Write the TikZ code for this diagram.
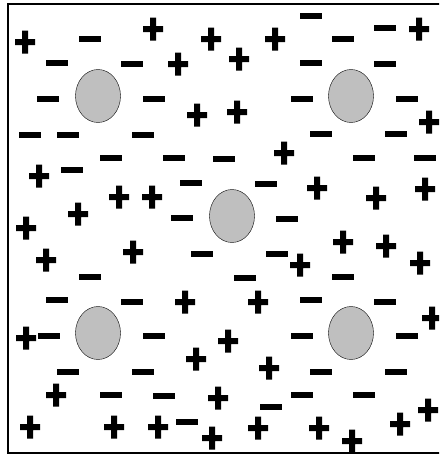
\documentclass[tikz,border=0pt]{standalone}
\tikzset{cell/.style={draw,thin,fill=black!25}}
\begin{document}
\begin{tikzpicture}[x=1pt,y=-1pt]
                    \useasboundingbox (0,0) rectangle (439,455);
                    \clip (0,0) rectangle (439,455);
                    \draw [line width=1.2pt] (8,4) rectangle (445,453);
                    \foreach \x/\y in {98/96,351/96,232/216,98/333,351/333}
                    \draw [cell] (\x,\y) ellipse [x radius=22.5,y radius=26.5];
                    % positive charges
                    \foreach \x/\y in {25/42,153/29,211/39,178/64,197/115,239/59,275/39,419/29,237/112,429/122,
                                       284/153,39/176,119/197,152/197,78/214,26/228,46/260,133/252,317/188,376/198,
                                       425/189,343/242,386/246,420/263,300/265,185/302,258/302,26/338,196/359,228/341,
                                       432/318,269/368,56/395,218/398,428/410,30/427,114/427,158/427,212/438,258/428,
                                       319/428,400/424,352/441}
                    \fill [shift={(\x,\y)}] (-10,-3) rectangle (10,3) (-3,-11.5) rectangle (3,11.5);
                    % negative charges
                    \foreach \x/\y in {90/39,57/63,132/64,48/99,154/99,30/135,68/135,143/135,311/16,343/39,
                                       385/28,311/63,385/64,302/99,407/99,321/134,396/134,111/158,174/158,224/159,
                                       72/170,191/183,182/218,202/254,90/277,364/158,425/158,266/184,287/219,277/254,
                                       245/278,343/277,57/300,132/302,311/300,385/302,49/336,154/336,302/336,407/336,
                                       68/372,143/372,321/372,396/372,111/395,164/396,302/395,364/395,187/422,271/407}
                    \fill [shift={(\x,\y)}] (-11,-3) rectangle (11,3);
                \end{tikzpicture}
\end{document}
